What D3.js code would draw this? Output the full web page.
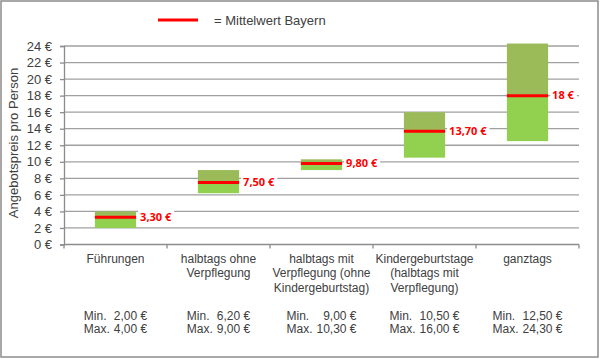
<!DOCTYPE html>
<html>
<head>
<meta charset="utf-8">
<script src="https://cdn.jsdelivr.net/npm/d3@7"></script>
<style>
  body { margin: 0; background: #fff; }
  svg text { font-family: "Liberation Sans", Arial, sans-serif; fill: #404040; }
  .mean-label { font-family: "Open Sans", "Liberation Sans", sans-serif; font-weight: bold; fill: #ff0000; }
</style>
</head>
<body>
<svg id="chart" width="600" height="359"></svg>
<script>
// categories, each split into its label lines
const categories = [
  ["Führungen"],
  ["halbtags ohne", "Verpflegung"],
  ["halbtags mit", "Verpflegung (ohne", "Kindergeburtstag)"],
  ["Kindergeburtstage", "(halbtags mit", "Verpflegung)"],
  ["ganztags"]
];
const minValues = [2.0, 6.2, 9.0, 10.5, 12.5];
const maxValues = [4.0, 9.0, 10.3, 16.0, 24.3];
const meanValues = [3.3, 7.5, 9.8, 13.7, 18];
const meanLabels = ["3,30 €", "7,50 €", "9,80 €", "13,70 €", "18 €"];
const minLabels = ["2,00 €", "6,20 €", "9,00 €", "10,50 €", "12,50 €"];
const maxLabels = ["4,00 €", "9,00 €", "10,30 €", "16,00 €", "24,30 €"];
const yTicks = [0, 2, 4, 6, 8, 10, 12, 14, 16, 18, 20, 22, 24];

const margin = {top: 46, left: 64, right: 21, bottom: 114}
  , width = 600 - margin.left - margin.right
  , height = 359 - margin.top - margin.bottom;

const svg = d3.select("#chart");

// outer frame
svg.append("rect")
  .attr("x", 1).attr("y", 1)
  .attr("width", 597).attr("height", 356)
  .attr("fill", "none")
  .attr("stroke", "#8c8c8c")
  .attr("stroke-width", 1.5);

const graph = svg.append("g")
  .attr("transform", "translate(" + margin.left + "," + margin.top + ")");

const idx = categories.map((d, i) => i);

const xScale = d3.scaleBand()
  .range([0, width])
  .domain(idx)
  .padding(0);

const yScale = d3.scaleLinear()
  .range([height - 0.5, 0])
  .domain([0, 24]);

// gridlines
graph.append("g")
  .selectAll("line")
  .data(yTicks.filter(d => d > 0))
  .enter().append("line")
  .attr("x1", 0).attr("x2", width)
  .attr("y1", d => yScale(d)).attr("y2", d => yScale(d))
  .attr("stroke", "#a0a0a0")
  .attr("stroke-width", 1.3);

// y axis
const yAxis = d3.axisLeft(yScale)
  .tickValues(yTicks)
  .tickSize(4)
  .tickPadding(8)
  .tickFormat(d => d + " €");

const yg = graph.append("g").call(yAxis);
yg.select(".domain").attr("stroke", "#8c8c8c").attr("stroke-width", 1.3);
yg.selectAll(".tick line").attr("stroke", "#8c8c8c").attr("stroke-width", 1.3);
yg.selectAll("text")
  .style("font-size", "13px")
  .attr("fill", "#404040");

// x axis (no labels, ticks at band edges)
const xg = graph.append("g")
  .attr("transform", "translate(0," + yScale(0) + ")");
xg.append("line")
  .attr("x1", 0).attr("x2", width)
  .attr("stroke", "#8c8c8c").attr("stroke-width", 1.3);
xg.selectAll(".xtick")
  .data(idx.concat([categories.length]))
  .enter().append("line")
  .attr("class", "xtick")
  .attr("x1", d => d < categories.length ? xScale(d) : width)
  .attr("x2", d => d < categories.length ? xScale(d) : width)
  .attr("y1", 0).attr("y2", 4)
  .attr("stroke", "#8c8c8c").attr("stroke-width", 1.3);

const barW = xScale.bandwidth() * 0.4;
const barX = i => xScale(i) + xScale.bandwidth() / 2 - barW / 2;

// lower part: min to mean
graph.selectAll(".low")
  .data(idx)
  .enter().append("rect")
  .attr("class", "low")
  .attr("x", barX)
  .attr("width", barW)
  .attr("y", i => yScale(meanValues[i]))
  .attr("height", i => yScale(minValues[i]) - yScale(meanValues[i]))
  .attr("fill", "#92d050");

// upper part: mean to max
graph.selectAll(".high")
  .data(idx)
  .enter().append("rect")
  .attr("class", "high")
  .attr("x", barX)
  .attr("width", barW)
  .attr("y", i => yScale(maxValues[i]))
  .attr("height", i => yScale(meanValues[i]) - yScale(maxValues[i]))
  .attr("fill", "#9bbb59");

// mean line
graph.selectAll(".mean")
  .data(idx)
  .enter().append("line")
  .attr("x1", barX)
  .attr("x2", i => barX(i) + barW)
  .attr("y1", i => yScale(meanValues[i]))
  .attr("y2", i => yScale(meanValues[i]))
  .attr("stroke", "#ff0000")
  .attr("stroke-width", 3);

// mean labels with white background
const ml = graph.selectAll(".ml")
  .data(idx)
  .enter().append("g")
  .attr("transform", i => "translate(" + (barX(i) + barW + 4) + "," + yScale(meanValues[i]) + ")");
ml.append("text")
  .attr("class", "mean-label")
  .attr("dy", "0.35em")
  .style("font-size", "11px")
  .text(i => meanLabels[i]);
ml.each(function() {
  const t = d3.select(this).select("text").node();
  const w = t.getComputedTextLength();
  d3.select(this).insert("rect", "text")
    .attr("x", -2).attr("y", -8)
    .attr("width", w + 5).attr("height", 16)
    .attr("fill", "#fff");
});

// category labels
const cat = graph.selectAll(".cat")
  .data(idx)
  .enter().append("text")
  .attr("class", "cat")
  .attr("text-anchor", "middle")
  .style("font-size", "12px")
  .attr("transform", i => "translate(" + (xScale(i) + xScale.bandwidth() / 2) + "," + (yScale(0) + 18) + ")");
cat.selectAll("tspan")
  .data(i => categories[i])
  .enter().append("tspan")
  .attr("x", 0)
  .attr("dy", (d, j) => j === 0 ? 0 : 14.5)
  .text(d => d);

// min / max rows: label left, value right-aligned
const mm = graph.selectAll(".mm")
  .data(idx)
  .enter().append("g")
  .attr("transform", i => "translate(" + (xScale(i) + xScale.bandwidth() / 2) + "," + (yScale(0) + 75) + ")");
mm.each(function(i) {
  const g = d3.select(this);
  const rows = [["Min.", minLabels[i]], ["Max.", maxLabels[i]]];
  const tmp = g.append("text").style("font-size", "12px").text("Max.");
  const lw = tmp.node().getComputedTextLength() + 4;
  tmp.remove();
  const vws = rows.map(r => {
    const t = g.append("text").style("font-size", "12px").text(r[1]);
    const w = t.node().getComputedTextLength();
    t.remove();
    return w;
  });
  const W = lw + d3.max(vws);
  rows.forEach((r, j) => {
    g.append("text").style("font-size", "12px")
      .attr("x", -W / 2).attr("y", j * 13.5)
      .text(r[0]);
    g.append("text").style("font-size", "12px")
      .attr("text-anchor", "end")
      .attr("x", W / 2).attr("y", j * 13.5)
      .text(r[1]);
  });
});

// y axis title
svg.append("text")
  .attr("transform", "translate(18," + 143 + ") rotate(-90)")
  .attr("text-anchor", "middle")
  .style("font-size", "13px")
  .text("Angebotspreis pro Person");

// legend
svg.append("line")
  .attr("x1", 158).attr("x2", 198)
  .attr("y1", 20).attr("y2", 20)
  .attr("stroke", "#ff0000")
  .attr("stroke-width", 3);
svg.append("text")
  .attr("x", 214).attr("y", 25)
  .style("font-size", "13px")
  .text("= Mittelwert Bayern");
</script>
</body>
</html>
